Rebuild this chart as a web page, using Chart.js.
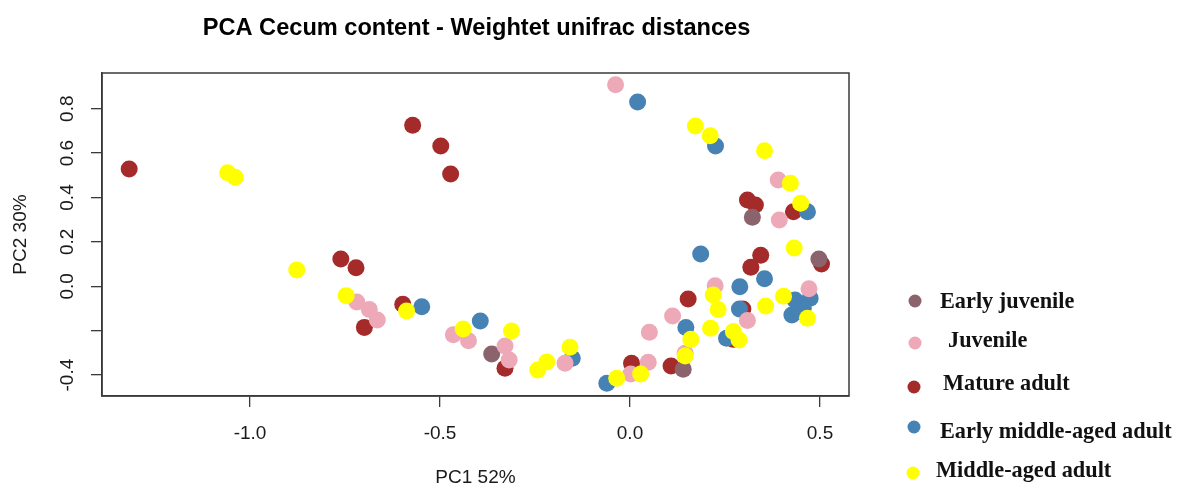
<!DOCTYPE html>
<html>
<head>
<meta charset="utf-8">
<title>PCA Cecum content - Weightet unifrac distances</title>
<script src="https://cdn.jsdelivr.net/npm/chart.js@4.4.0/dist/chart.umd.min.js"></script>
<style>
  html, body { margin: 0; padding: 0; background: #ffffff; }
  #wrap { width: 1180px; height: 489px; }
</style>
</head>
<body>
<div id="wrap"><canvas id="pca" width="1180" height="489"></canvas></div>
<script>
// ---- data ----
const chartTitle = 'PCA Cecum content - Weightet unifrac distances';
const xAxisTitle = 'PC1 52%';
const yAxisTitle = 'PC2 30%';

const groups = ['Early juvenile', 'Juvenile', 'Mature adult', 'Early middle-aged adult', 'Middle-aged adult'];
const groupColors = ['#8b636c', '#eea9b8', '#a52a2a', '#4682b4', '#ffff00'];

const earlyJuvenilePC1 = [-0.364, 0.140, 0.322, 0.497];
const earlyJuvenilePC2 = [-0.305, -0.374, 0.311, 0.123];

const juvenilePC1 = [-0.038, -0.719, -0.686, -0.665, -0.465, -0.425, -0.329, -0.318, -0.171, 0.002,
                     0.048, 0.051, 0.112, 0.145, 0.224, 0.309, 0.390, 0.393, 0.471];
const juvenilePC2 = [0.908, -0.071, -0.104, -0.152, -0.218, -0.245, -0.269, -0.332, -0.347, -0.395,
                     -0.342, -0.207, -0.134, -0.302, 0.003, -0.154, 0.479, 0.299, -0.011];

const matureAdultPC1 = [-1.318, -0.572, -0.498, -0.472, -0.761, -0.721, -0.699, -0.598, -0.329, 0.004,
                        0.108, 0.153, 0.297, 0.272, 0.309, 0.330, 0.430, 0.344, 0.318, 0.504];
const matureAdultPC2 = [0.528, 0.725, 0.632, 0.506, 0.123, 0.084, -0.185, -0.081, -0.369, -0.347,
                        -0.359, -0.057, -0.102, -0.239, 0.389, 0.366, 0.336, 0.140, 0.086, 0.100];

const earlyMiddleAgedPC1 = [0.020, 0.225, -0.548, -0.394, -0.152, -0.061, 0.147, 0.289, 0.288, 0.254,
                            0.186, 0.354, 0.467, 0.474, 0.434, 0.456, 0.426, 0.447];
const earlyMiddleAgedPC2 = [0.830, 0.632, -0.092, -0.156, -0.324, -0.437, -0.186, -0.002, -0.102, -0.234,
                            0.146, 0.034, 0.336, -0.054, -0.062, -0.099, -0.129, -0.114];

const middleAgedPC1 = [-1.059, -1.039, -0.877, -0.747, -0.588, -0.439, -0.312, -0.243, -0.219, -0.158,
                       -0.035, 0.028, 0.145, 0.160, 0.219, 0.232, 0.212, 0.272, 0.287, 0.172,
                       0.211, 0.354, 0.422, 0.449, 0.432, 0.404, 0.357, 0.467];
const middleAgedPC2 = [0.512, 0.491, 0.073, -0.042, -0.111, -0.192, -0.201, -0.377, -0.341, -0.275,
                       -0.414, -0.395, -0.314, -0.239, -0.039, -0.104, -0.189, -0.204, -0.242, 0.722,
                       0.678, 0.611, 0.464, 0.374, 0.173, -0.045, -0.089, -0.144];

const xTicks = [-1.0, -0.5, 0.0, 0.5];
const xTickLabels = ['-1.0', '-0.5', '0.0', '0.5'];
const yTicks = [-0.4, -0.2, 0.0, 0.2, 0.4, 0.6, 0.8];
const yTickLabels = ['-0.4', '', '0.0', '0.2', '0.4', '0.6', '0.8'];

const xRange = [-1.3895, 0.5763];
const yRange = [-0.4941, 0.9608];

// ---- build datasets ----
const seriesPC1 = [earlyJuvenilePC1, juvenilePC1, matureAdultPC1, earlyMiddleAgedPC1, middleAgedPC1];
const seriesPC2 = [earlyJuvenilePC2, juvenilePC2, matureAdultPC2, earlyMiddleAgedPC2, middleAgedPC2];
// stacking of the point layers (lower value drawn on top)
const layerOrder = [4, 2, 5, 3, 1];

const datasets = groups.map((name, g) => ({
  label: name,
  data: seriesPC1[g].map((x, i) => ({ x: x, y: seriesPC2[g][i] })),
  backgroundColor: groupColors[g],
  borderWidth: 0,
  pointRadius: 8.5,
  pointHoverRadius: 8.5,
  order: layerOrder[g]
}));

const AXIS_COLOR = '#3a3a3a';
const TEXT_COLOR = '#1a1a1a';

// frame, rotated y tick labels, title and the legend beside the plot
const decorations = {
  id: 'decorations',
  afterDraw(chart) {
    const ctx = chart.ctx;
    const a = chart.chartArea;
    ctx.save();

    // plot frame
    ctx.strokeStyle = AXIS_COLOR;
    ctx.lineWidth = 1.5;
    ctx.strokeRect(a.left, a.top, a.right - a.left, a.bottom - a.top);

    // y tick labels, written along the axis
    const ys = chart.scales.y;
    ctx.fillStyle = TEXT_COLOR;
    ctx.font = '19px "Liberation Sans", Arial, sans-serif';
    ctx.textAlign = 'center';
    ctx.textBaseline = 'middle';
    yTicks.forEach((v, i) => {
      if (!yTickLabels[i]) return;
      ctx.save();
      ctx.translate(68, ys.getPixelForValue(v));
      ctx.rotate(-Math.PI / 2);
      ctx.fillText(yTickLabels[i], 0, 0);
      ctx.restore();
    });

    // title
    ctx.font = 'bold 23.6px "Liberation Sans", Arial, sans-serif';
    ctx.textAlign = 'center';
    ctx.textBaseline = 'alphabetic';
    ctx.fillStyle = '#000';
    ctx.fillText(chartTitle, (a.left + a.right) / 2 + 1, 35);

    // legend
    const dotX = [915, 915, 914, 914, 913];
    const dotY = [301, 343, 387, 427, 473];
    const textX = [940, 948, 943, 940, 936];
    const textY = [301, 340, 383, 431, 470];
    ctx.font = 'bold 22.3px "Liberation Serif", "Times New Roman", serif';
    ctx.textAlign = 'left';
    groups.forEach((name, g) => {
      ctx.beginPath();
      ctx.fillStyle = groupColors[g];
      ctx.arc(dotX[g], dotY[g], 6.5, 0, Math.PI * 2);
      ctx.fill();
      ctx.fillStyle = '#111';
      ctx.fillText(name, textX[g], textY[g] + 7);
    });

    ctx.restore();
  }
};

new Chart(document.getElementById('pca'), {
  type: 'scatter',
  data: { datasets: datasets },
  plugins: [decorations],
  options: {
    responsive: false,
    animation: false,
    devicePixelRatio: 1,
    layout: { padding: { left: 0, top: 73, right: 331, bottom: 0 } },
    plugins: {
      legend: { display: false },
      title: { display: false },
      tooltip: { enabled: true }
    },
    scales: {
      x: {
        type: 'linear',
        min: xRange[0],
        max: xRange[1],
        afterFit(scale) { scale.height = 93; },
        afterBuildTicks(scale) { scale.ticks = xTicks.map(v => ({ value: v })); },
        grid: { drawOnChartArea: false, drawTicks: true, tickLength: 11, color: AXIS_COLOR, lineWidth: 1.3 },
        border: { display: true, color: AXIS_COLOR, width: 1.5 },
        ticks: {
          padding: 15,
          color: TEXT_COLOR,
          font: { family: '"Liberation Sans", Arial, sans-serif', size: 19 },
          maxRotation: 0,
          callback(value) {
            const i = xTicks.indexOf(value);
            return i >= 0 ? xTickLabels[i] : '';
          }
        },
        title: {
          display: true,
          text: xAxisTitle,
          color: TEXT_COLOR,
          font: { family: '"Liberation Sans", Arial, sans-serif', size: 19 },
          padding: { top: 0, bottom: 0 }
        }
      },
      y: {
        type: 'linear',
        min: yRange[0],
        max: yRange[1],
        afterFit(scale) { scale.width = 102; },
        afterBuildTicks(scale) { scale.ticks = yTicks.map(v => ({ value: v })); },
        grid: { drawOnChartArea: false, drawTicks: true, tickLength: 11, color: AXIS_COLOR, lineWidth: 1.3 },
        border: { display: true, color: AXIS_COLOR, width: 1.5 },
        ticks: { display: false },
        title: {
          display: true,
          text: yAxisTitle,
          color: TEXT_COLOR,
          font: { family: '"Liberation Sans", Arial, sans-serif', size: 19 },
          padding: { top: 9, bottom: 0 }
        }
      }
    }
  }
});
</script>
</body>
</html>
